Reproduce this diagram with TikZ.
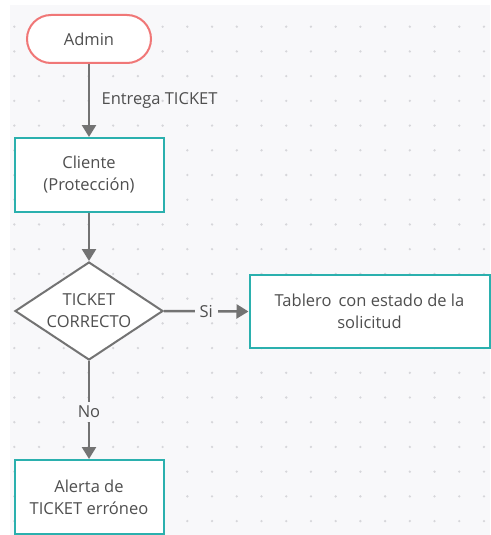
\documentclass[tikz,border=0pt]{standalone}
\usepackage{fontspec}
\setmainfont{Open Sans}
\usetikzlibrary{arrows.meta,shapes.geometric}
\definecolor{bgc}{HTML}{F8F8FA}
\definecolor{dotc}{HTML}{D6D6DA}
\definecolor{linec}{HTML}{737373}
\definecolor{txtc}{HTML}{4F4F4F}
\definecolor{redc}{HTML}{F07777}
\definecolor{tealc}{HTML}{2BB0AE}
\tikzset{
  every node/.style={text=txtc, font=\fontsize{16.5}{22}\selectfont},
  procbox/.style={draw=tealc, line width=2pt, fill=white, minimum width=149pt, minimum height=74pt, align=center, inner sep=0pt},
  startbox/.style={draw=redc, line width=2pt, fill=white, rounded corners=24pt, minimum width=124pt, minimum height=48pt, inner sep=0pt},
  decbox/.style={draw=linec, line width=2pt, fill=white, diamond, minimum width=148pt, minimum height=98pt, aspect=1.5, align=center, inner sep=0pt},
  conn/.style={draw=linec, line width=2.5pt, -{Triangle[width=14pt,length=12pt]}},
  lbl/.style={fill=bgc, inner xsep=5pt, inner ysep=4pt},
}
\begin{document}
\begin{tikzpicture}[x=1pt,y=-1pt]
\useasboundingbox (0,0) rectangle (490,535);
\fill[bgc] (10,5) rectangle (490,535);
\foreach \i in {0,...,19}{
  \foreach \j in {0,...,20}{
    \fill[dotc] ({14.3+24.72*\i},{26.7+24.72*\j}) circle (1.3pt);
  }
}
\node[startbox] (admin) at (89,39) {Admin};
\node[procbox] (cliente) at (89,175) {Cliente\\(Protección)};
\node[decbox] (dec) at (89,311) {TICKET\\CORRECTO};
\node[procbox, minimum width=240pt, minimum height=73pt] (tablero) at (369.5,311.5) {Tablero\, con estado de la\\solicitud};
\node[procbox] (alerta) at (89,497) {Alerta de\\TICKET erróneo};
\draw[conn] (admin) -- node[right, xshift=8pt] {Entrega TICKET} (cliente);
\draw[conn] (cliente) -- (dec);
\draw[conn] (dec.east) -- node[lbl] {Si} (tablero.west);
\draw[conn] (dec.south) -- node[lbl, pos=0.52] {No} (alerta.north);
\end{tikzpicture}
\end{document}
